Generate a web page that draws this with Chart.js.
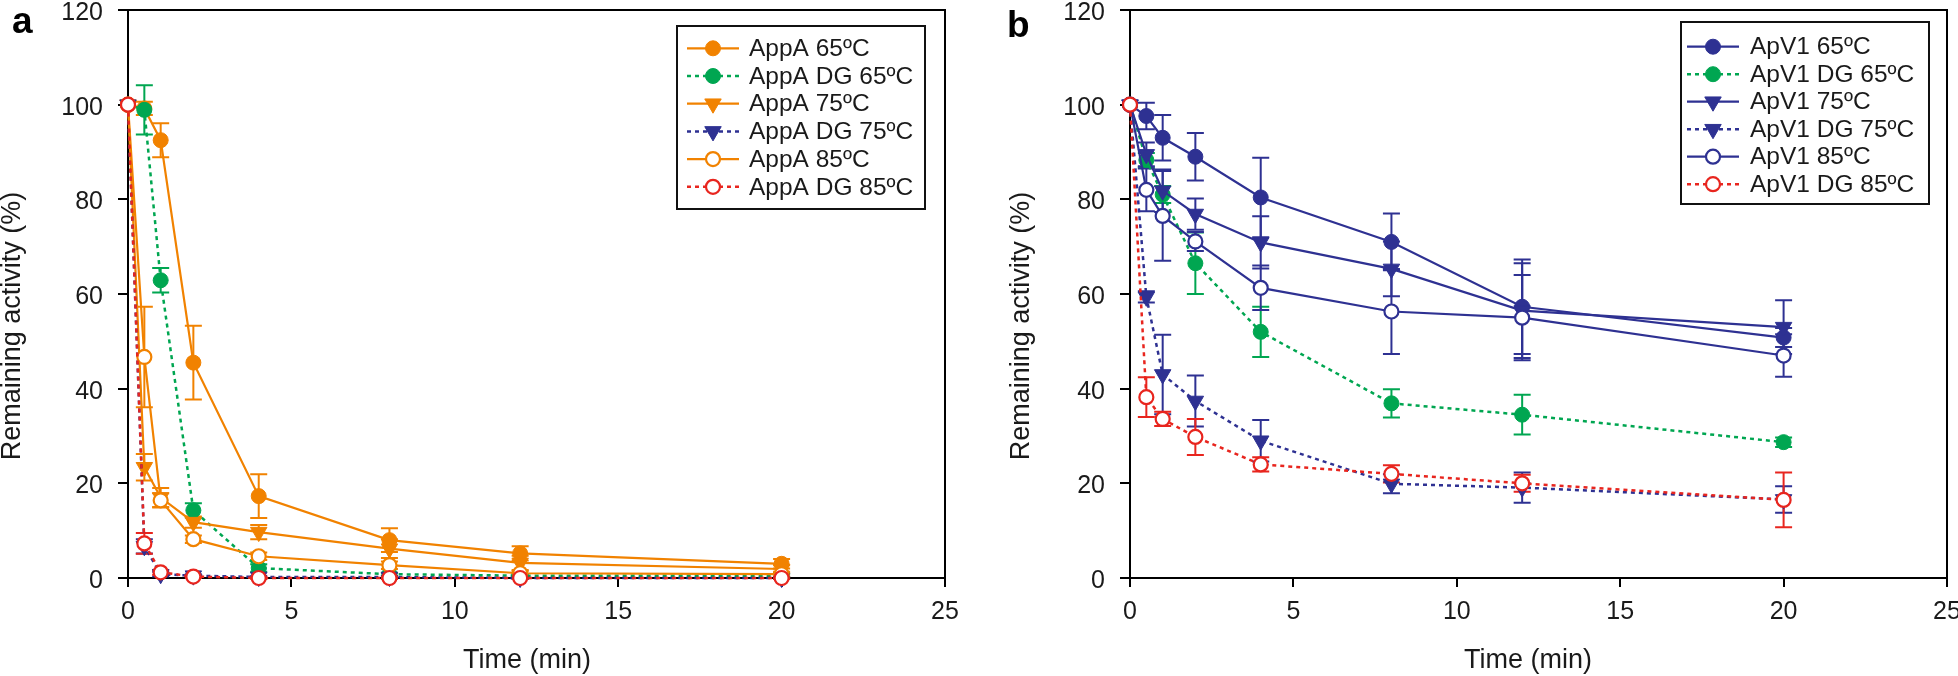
<!DOCTYPE html>
<html>
<head>
<meta charset="utf-8">
<script src="https://cdn.jsdelivr.net/npm/chart.js@4"></script>
<style>
html, body { margin: 0; padding: 0; background: #fff; overflow: hidden; width: 1958px; height: 676px; }
#wrapA { position: absolute; left: 0; top: -20px; width: 1000px; height: 696px; }
#wrapB { position: absolute; left: 1000px; top: -20px; width: 980px; height: 696px; }
</style>
</head>
<body>
<div id="wrapA"><canvas id="chartA"></canvas></div>
<div id="wrapB"><canvas id="chartB"></canvas></div>
<script>
// sampling times (min)
const times = [0, 0.5, 1, 2, 4, 8, 12, 20];
const xTickValues = [0, 5, 10, 15, 20, 25];
const yTickValues = [0, 20, 40, 60, 80, 100, 120];

// panel a - AppA
const labelsA = ['AppA 65ºC', 'AppA DG 65ºC', 'AppA 75ºC', 'AppA DG 75ºC', 'AppA 85ºC', 'AppA DG 85ºC'];
const appa65 = [100, 99.2, 92.5, 45.5, 17.3, 8.0, 5.2, 3.0];
const appa65Err = [0, 1.4, 3.6, 7.8, 4.6, 2.5, 1.5, 1.0];
const appaDg65 = [100, 98.9, 62.9, 14.3, 2.1, 0.8, 0.5, 0.5];
const appaDg65Err = [0, 5.2, 2.6, 1.5, 0.8, 0.3, 0.3, 0.3];
const appa75 = [100, 23.4, 17.0, 11.8, 9.7, 6.2, 3.2, 1.9];
const appa75Err = [0, 2.8, 2.0, 1.2, 1.5, 2.0, 1.5, 0.8];
const appaDg75 = [100, 6.7, 0.8, 0.5, 0.2, 0.2, 0, 0];
const appaDg75Err = [0, 1.5, 0.5, 0.3, 0.2, 0.2, 0.2, 0.2];
const appa85 = [100, 46.7, 16.4, 8.2, 4.6, 2.7, 1.0, 0.8];
const appa85Err = [0, 10.6, 1.5, 0.8, 0.8, 0.8, 0.5, 0.5];
const appaDg85 = [100, 7.3, 1.2, 0.3, 0, 0, 0, 0];
const appaDg85Err = [0, 2.2, 0.5, 0.3, 0.2, 0.2, 0.2, 0.2];

// panel b - ApV1
const labelsB = ['ApV1 65ºC', 'ApV1 DG 65ºC', 'ApV1 75ºC', 'ApV1 DG 75ºC', 'ApV1 85ºC', 'ApV1 DG 85ºC'];
const apv65 = [100, 97.6, 93.0, 89.0, 80.4, 71.0, 57.3, 50.8];
const apv65Err = [0, 2.8, 4.8, 5.0, 8.4, 6.0, 10.0, 2.0];
const apvDg65 = [100, 88.3, 81.0, 66.5, 52.0, 36.9, 34.5, 28.7];
const apvDg65Err = [0, 1.5, 1.8, 6.5, 5.3, 3.0, 4.2, 1.0];
const apv75 = [100, 89.5, 81.8, 76.9, 70.9, 65.3, 56.5, 53.0];
const apv75Err = [0, 2.5, 4.5, 3.3, 5.5, 5.8, 10.0, 5.7];
const apvDg75 = [100, 59.4, 43.0, 37.4, 29.0, 19.9, 19.1, 16.6];
const apvDg75Err = [0, 1.2, 8.4, 5.4, 4.4, 2.0, 3.2, 2.8];
const apv85 = [100, 82.0, 76.5, 71.1, 61.3, 56.3, 55.0, 47.0];
const apv85Err = [0, 4.5, 9.5, 2.0, 4.7, 9.0, 9.0, 4.5];
const apvDg85 = [100, 38.2, 33.6, 29.8, 24.0, 22.0, 20.0, 16.5];
const apvDg85Err = [0, 4.2, 1.5, 3.8, 1.5, 1.8, 1.8, 5.8];

const ORANGE = '#F18200';
const GREEN = '#00A651';
const NAVY = '#2E3192';
const RED = '#E8251E';
const FONT = '"Liberation Sans", Arial, Helvetica, sans-serif';

function makeSet(i, label, values, errors, color, dashed, shape, open) {
    return {
        label: label,
        data: times.map((t, k) => ({ x: t, y: values[k] })),
        errorBars: errors,
        borderColor: color,
        backgroundColor: color,
        borderWidth: dashed ? 2.5 : 2.2,
        borderDash: dashed ? [4, 4] : [],
        pointStyle: shape === 'tri' ? 'triangle' : 'circle',
        pointRotation: shape === 'tri' ? 180 : 0,
        pointRadius: shape === 'tri' ? 9.5 : (open ? 7 : 7.5),
        pointBorderWidth: open ? 2.2 : 1,
        pointBackgroundColor: open ? '#fff' : color,
        pointBorderColor: color,
        tension: 0,
        clip: false,
        order: 6 - i
    };
}

function drawMarker(ctx, ds, x, y) {
    const opts = { pointStyle: ds.pointStyle, rotation: ds.pointRotation, radius: ds.pointRadius, borderWidth: ds.pointBorderWidth };
    ctx.fillStyle = ds.pointBackgroundColor;
    ctx.strokeStyle = ds.pointBorderColor;
    ctx.lineWidth = ds.pointBorderWidth;
    if (Chart.helpers && Chart.helpers.drawPoint) {
        Chart.helpers.drawPoint(ctx, opts, x, y);
        return;
    }
    ctx.beginPath();
    if (ds.pointStyle === 'triangle') {
        let rad = ds.pointRotation * Math.PI / 180;
        for (let k = 0; k < 3; k++) {
            const px = x + Math.sin(rad) * ds.pointRadius;
            const py = y - Math.cos(rad) * ds.pointRadius;
            if (k === 0) ctx.moveTo(px, py); else ctx.lineTo(px, py);
            rad += 2 * Math.PI / 3;
        }
        ctx.closePath();
    } else {
        ctx.arc(x, y, ds.pointRadius, 0, Math.PI * 2);
    }
    ctx.fill();
    ctx.stroke();
}

const decorPlugin = {
    id: 'decor',
    beforeDatasetsDraw(chart) {
        // error bars under the markers
        const ctx = chart.ctx;
        const yScale = chart.scales.y;
        ctx.save();
        ctx.setLineDash([]);
        chart.data.datasets.forEach((ds, i) => {
            const meta = chart.getDatasetMeta(i);
            ctx.strokeStyle = ds.borderColor;
            ctx.lineWidth = 2;
            meta.data.forEach((pt, j) => {
                const e = ds.errorBars[j];
                if (!e) return;
                const v = ds.data[j].y;
                const yTop = yScale.getPixelForValue(v + e);
                const yBot = yScale.getPixelForValue(v - e);
                const x = pt.x;
                ctx.beginPath();
                ctx.moveTo(x, yTop); ctx.lineTo(x, yBot);
                ctx.moveTo(x - 8.5, yTop); ctx.lineTo(x + 8.5, yTop);
                ctx.moveTo(x - 8.5, yBot); ctx.lineTo(x + 8.5, yBot);
                ctx.stroke();
            });
        });
        ctx.restore();
    },
    afterDraw(chart, args, opts) {
        const ctx = chart.ctx;
        const area = chart.chartArea;
        ctx.save();
        // top and right frame
        ctx.strokeStyle = '#000';
        ctx.lineWidth = 2;
        ctx.beginPath();
        ctx.moveTo(area.left, area.top);
        ctx.lineTo(area.right, area.top);
        ctx.lineTo(area.right, area.bottom);
        ctx.stroke();

        // legend
        const lg = opts.legend;
        ctx.lineWidth = 2;
        ctx.strokeStyle = '#111';
        ctx.strokeRect(lg.left, lg.top, lg.right - lg.left, lg.bottom - lg.top);
        ctx.font = '24.5px ' + FONT;
        ctx.textBaseline = 'middle';
        ctx.textAlign = 'left';
        chart.data.datasets.forEach((ds, i) => {
            const y = lg.row0 + i * lg.rowH;
            ctx.strokeStyle = ds.borderColor;
            ctx.lineWidth = ds.borderWidth;
            ctx.setLineDash(ds.borderDash);
            ctx.beginPath();
            ctx.moveTo(lg.lineX0, y);
            ctx.lineTo(lg.lineX1, y);
            ctx.stroke();
            ctx.setLineDash([]);
            drawMarker(ctx, ds, (lg.lineX0 + lg.lineX1) / 2, y);
            ctx.fillStyle = '#1a1a1a';
            ctx.fillText(ds.label, lg.textX, y + 1);
        });

        // axis titles
        ctx.fillStyle = '#1a1a1a';
        ctx.font = '27px ' + FONT;
        ctx.textAlign = 'center';
        ctx.textBaseline = 'middle';
        ctx.fillText('Time (min)', opts.xTitle.x, opts.xTitle.y);
        ctx.translate(opts.yTitle.x, opts.yTitle.y);
        ctx.rotate(-Math.PI / 2);
        ctx.fillText('Remaining activity (%)', 0, 0);
        ctx.setTransform(1, 0, 0, 1, 0, 0);

        // panel letter
        ctx.font = 'bold 37px ' + FONT;
        ctx.textAlign = 'left';
        ctx.textBaseline = 'alphabetic';
        ctx.fillStyle = '#000';
        ctx.fillText(opts.letter.text, opts.letter.x, opts.letter.y);
        ctx.restore();
    }
};

function makeOptions(cfg) {
    return {
        responsive: true,
        maintainAspectRatio: false,
        animation: false,
        devicePixelRatio: 1,
        layout: { padding: cfg.padding },
        plugins: {
            legend: { display: false },
            tooltip: { enabled: false },
            decor: cfg.decor
        },
        scales: {
            x: {
                type: 'linear',
                min: xTickValues[0],
                max: xTickValues[xTickValues.length - 1],
                afterBuildTicks: s => { s.ticks = xTickValues.map(v => ({ value: v })); },
                afterFit: s => { s.height = cfg.xHeight; },
                border: { display: true, color: '#000', width: 2 },
                grid: { drawOnChartArea: false, drawTicks: true, tickLength: 9, color: '#000', lineWidth: 2 },
                ticks: { color: '#1a1a1a', padding: 10, maxRotation: 0, font: { family: FONT, size: 25 } }
            },
            y: {
                type: 'linear',
                min: yTickValues[0],
                max: yTickValues[yTickValues.length - 1],
                afterBuildTicks: s => { s.ticks = yTickValues.map(v => ({ value: v })); },
                afterFit: s => { s.width = cfg.yWidth; },
                border: { display: true, color: '#000', width: 2 },
                grid: { drawOnChartArea: false, drawTicks: true, tickLength: 10, color: '#000', lineWidth: 2 },
                ticks: { color: '#1a1a1a', padding: 15, labelOffset: 3, font: { family: FONT, size: 25 } }
            }
        }
    };
}

new Chart(document.getElementById('chartA'), {
    type: 'line',
    data: {
        datasets: [
            makeSet(0, labelsA[0], appa65, appa65Err, ORANGE, false, 'circle', false),
            makeSet(1, labelsA[1], appaDg65, appaDg65Err, GREEN, true, 'circle', false),
            makeSet(2, labelsA[2], appa75, appa75Err, ORANGE, false, 'tri', false),
            makeSet(3, labelsA[3], appaDg75, appaDg75Err, NAVY, true, 'tri', false),
            makeSet(4, labelsA[4], appa85, appa85Err, ORANGE, false, 'circle', true),
            makeSet(5, labelsA[5], appaDg85, appaDg85Err, RED, true, 'circle', true)
        ]
    },
    options: makeOptions({
        padding: { left: 0, top: 27, right: 55, bottom: 0 },
        yWidth: 128,
        xHeight: 98,
        decor: {
            legend: { left: 677, top: 46, right: 925, bottom: 229, row0: 68.3, rowH: 27.7, lineX0: 687, lineX1: 739, textX: 749 },
            xTitle: { x: 527, y: 681 },
            yTitle: { x: 13, y: 346 },
            letter: { text: 'a', x: 12, y: 53 }
        }
    }),
    plugins: [decorPlugin]
});

new Chart(document.getElementById('chartB'), {
    type: 'line',
    data: {
        datasets: [
            makeSet(0, labelsB[0], apv65, apv65Err, NAVY, false, 'circle', false),
            makeSet(1, labelsB[1], apvDg65, apvDg65Err, GREEN, true, 'circle', false),
            makeSet(2, labelsB[2], apv75, apv75Err, NAVY, false, 'tri', false),
            makeSet(3, labelsB[3], apvDg75, apvDg75Err, NAVY, true, 'tri', false),
            makeSet(4, labelsB[4], apv85, apv85Err, NAVY, false, 'circle', true),
            makeSet(5, labelsB[5], apvDg85, apvDg85Err, RED, true, 'circle', true)
        ]
    },
    options: makeOptions({
        padding: { left: 7, top: 25, right: 33, bottom: 0 },
        yWidth: 123,
        xHeight: 98,
        decor: {
            legend: { left: 681, top: 42, right: 929, bottom: 224, row0: 66.7, rowH: 27.5, lineX0: 687, lineX1: 739, textX: 750 },
            xTitle: { x: 528, y: 681 },
            yTitle: { x: 22, y: 346 },
            letter: { text: 'b', x: 7, y: 57 }
        }
    }),
    plugins: [decorPlugin]
});
</script>
</body>
</html>
